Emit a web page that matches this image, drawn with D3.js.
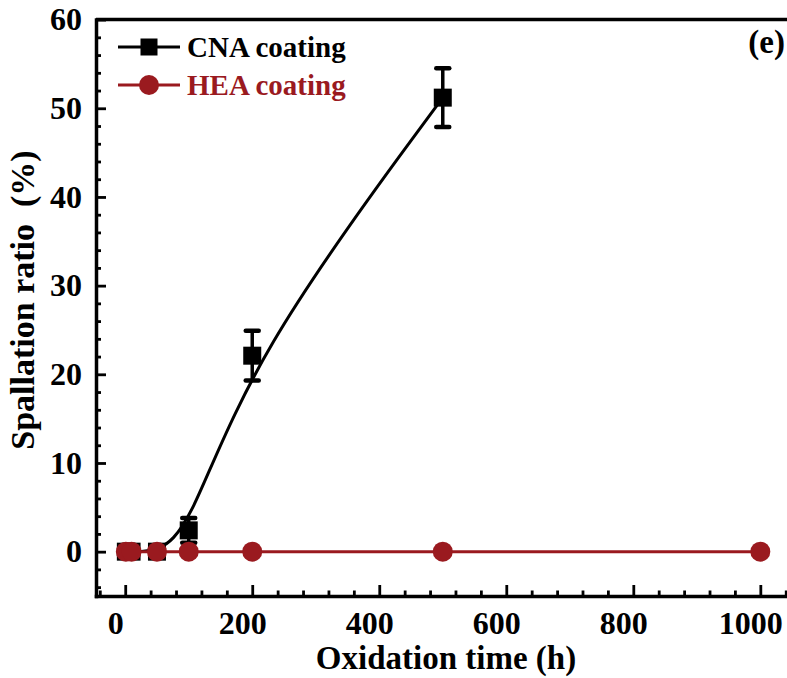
<!DOCTYPE html>
<html>
<head>
<meta charset="utf-8">
<script src="https://cdn.jsdelivr.net/npm/d3@7"></script>
<style>
  body { margin: 0; background: #fff; }
  svg { display: block; }
  text { font-family: "Liberation Serif", "Times New Roman", serif; font-weight: bold; }
</style>
</head>
<body>
<div id="chart"></div>
<script>
// data
var cnaHours = [1, 10, 50, 100, 200, 500];
var cnaRatio = [0, 0, 0, 2.4, 22.1, 51.2];
var cnaErr   = [0, 0, 0, 1.4, 2.8, 3.3];
var heaHours = [1, 10, 50, 100, 200, 500, 1000];
var heaRatio = [0, 0, 0, 0, 0, 0, 0];
var xMajor = [0, 200, 400, 600, 800, 1000];
var yMajor = [0, 10, 20, 30, 40, 50, 60];
var seriesNames = ["CNA coating", "HEA coating"];

var W = 787, H = 678;
var red = "#9a1a1f";
var axisW = 3.5;

var x = d3.scaleLinear().domain([-46, 1042]).range([96, 787]);
var y = d3.scaleLinear().domain([-5, 60]).range([596, 19.6]);

var xMinor = d3.range(-40, 1041, 40).filter(d => d % 200 != 0);
var yMinor = d3.range(-4, 59, 2).filter(d => d % 10 != 0);

var svg = d3.select("#chart").append("svg")
  .attr("width", W)
  .attr("height", H);

// axes, ticks pointing inward
svg.append("g")
  .attr("transform", `translate(0,${y(-5)})`)
  .call(d3.axisBottom(x).tickValues(xMajor).tickFormat(d3.format("d")).tickSize(-11).tickPadding(15).tickSizeOuter(0))
  .call(g => g.selectAll(".tick text").attr("dx", -10).attr("font-size", 32).attr("font-family", null));
svg.append("g")
  .attr("transform", `translate(0,${y(-5)})`)
  .call(d3.axisBottom(x).tickValues(xMinor).tickSize(-5.5).tickFormat("").tickSizeOuter(0))
  .call(g => g.select(".domain").remove());

svg.append("g")
  .attr("transform", `translate(${x(-46)},0)`)
  .call(d3.axisLeft(y).tickValues(yMajor).tickSize(-10).tickPadding(14).tickSizeOuter(0))
  .call(g => g.selectAll(".tick text").attr("font-size", 32).attr("font-family", null));
svg.append("g")
  .attr("transform", `translate(${x(-46)},0)`)
  .call(d3.axisLeft(y).tickValues(yMinor).tickSize(-5).tickFormat("").tickSizeOuter(0))
  .call(g => g.select(".domain").remove());

svg.selectAll(".domain").attr("stroke-width", axisW).attr("stroke-linecap", "square");
svg.selectAll(".tick line").attr("stroke-width", 2.8);

// top frame line
svg.append("line")
  .attr("x1", x(-46)).attr("x2", W + 5)
  .attr("y1", y(60)).attr("y2", y(60))
  .attr("stroke", "#000").attr("stroke-width", axisW);

// titles
svg.append("text")
  .attr("x", 446).attr("y", 669)
  .attr("text-anchor", "middle")
  .attr("font-size", 33)
  .text("Oxidation time (h)");

svg.append("text")
  .attr("transform", "translate(34,300) rotate(-90)")
  .attr("text-anchor", "middle")
  .attr("font-size", 34)
  .style("white-space", "pre")
  .text("Spallation ratio  (%)");

svg.append("text")
  .attr("x", 785).attr("y", 53)
  .attr("text-anchor", "end")
  .attr("font-size", 33)
  .text("(e)");

// CNA series: B-spline through the points
var cna = cnaHours.map((h, i) => ({h: h, v: cnaRatio[i], e: cnaErr[i]}));
var hea = heaHours.map((h, i) => ({h: h, v: heaRatio[i]}));

var spline = d3.line()
  .x(d => x(d.h))
  .y(d => y(d.v))
  .curve(d3.curveBasis);

svg.append("path")
  .datum(cna)
  .attr("fill", "none")
  .attr("stroke", "#000")
  .attr("stroke-width", 3)
  .attr("d", spline);

var eb = svg.append("g").selectAll("g")
  .data(cna.filter(d => d.e > 0))
  .join("g")
  .attr("stroke", "#000")
  .attr("stroke-width", 3.5)
  .attr("stroke-linecap", "round");
eb.append("line")
  .attr("x1", d => x(d.h)).attr("x2", d => x(d.h))
  .attr("y1", d => y(d.v - d.e)).attr("y2", d => y(d.v + d.e));
eb.append("line")
  .attr("x1", d => x(d.h) - 6.5).attr("x2", d => x(d.h) + 6.5)
  .attr("y1", d => y(d.v + d.e)).attr("y2", d => y(d.v + d.e))
  .attr("stroke-width", 4.5);
eb.append("line")
  .attr("x1", d => x(d.h) - 6.5).attr("x2", d => x(d.h) + 6.5)
  .attr("y1", d => y(d.v - d.e)).attr("y2", d => y(d.v - d.e))
  .attr("stroke-width", 4.5);

var sq = 18;
svg.append("g").selectAll("rect")
  .data(cna)
  .join("rect")
  .attr("x", d => x(d.h) - sq / 2)
  .attr("y", d => y(d.v) - sq / 2)
  .attr("width", sq)
  .attr("height", sq)
  .attr("fill", "#000");

// HEA series
var straight = d3.line()
  .x(d => x(d.h))
  .y(d => y(d.v));

svg.append("path")
  .datum(hea)
  .attr("fill", "none")
  .attr("stroke", red)
  .attr("stroke-width", 3)
  .attr("d", straight);

svg.append("g").selectAll("circle")
  .data(hea)
  .join("circle")
  .attr("cx", d => x(d.h))
  .attr("cy", d => y(d.v))
  .attr("r", 10)
  .attr("fill", red);

// legend
var leg = svg.append("g");
var rows = [
  {name: seriesNames[0], color: "#000", shape: "square", ly: 47, ty: 57},
  {name: seriesNames[1], color: red, shape: "circle", ly: 85, ty: 95}
];
rows.forEach(function(r){
  leg.append("line")
    .attr("x1", 118).attr("x2", 180)
    .attr("y1", r.ly).attr("y2", r.ly)
    .attr("stroke", r.color).attr("stroke-width", 3);
  if(r.shape == "square"){
    leg.append("rect")
      .attr("x", 149 - 8.5).attr("y", r.ly - 8.5)
      .attr("width", 17).attr("height", 17)
      .attr("fill", r.color);
  }else{
    leg.append("circle")
      .attr("cx", 149).attr("cy", r.ly)
      .attr("r", 10)
      .attr("fill", r.color);
  }
  leg.append("text")
    .attr("x", 187).attr("y", r.ty)
    .attr("font-size", 29)
    .attr("fill", r.color)
    .text(r.name);
});
</script>
</body>
</html>
